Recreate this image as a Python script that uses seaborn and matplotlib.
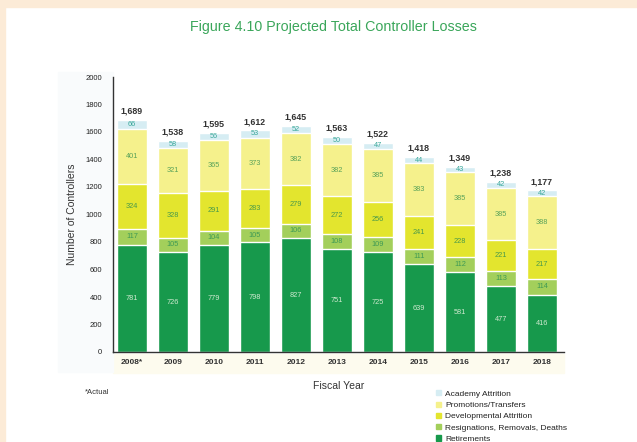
import matplotlib
matplotlib.use("Agg")
import matplotlib.pyplot as plt
from matplotlib.patches import Rectangle
import seaborn as sns
import numpy as np
import pandas as pd

years = ["2008*", "2009", "2010", "2011", "2012", "2013", "2014", "2015", "2016", "2017", "2018"]
retirements = [781, 726, 779, 798, 827, 751, 725, 639, 581, 477, 416]
resignations = [117, 105, 104, 105, 106, 108, 109, 111, 112, 113, 114]
developmental = [324, 328, 291, 283, 279, 272, 256, 241, 228, 221, 217]
promotions = [401, 321, 365, 373, 382, 382, 385, 383, 385, 385, 388]
academy = [66, 58, 56, 53, 52, 50, 47, 44, 43, 42, 42]
totals = [1689, 1538, 1595, 1612, 1645, 1563, 1522, 1418, 1349, 1238, 1177]

series_names = ["Retirements", "Resignations, Removals, Deaths", "Developmental Attrition",
                "Promotions/Transfers", "Academy Attrition"]
series_vals = [retirements, resignations, developmental, promotions, academy]
colors = ["#17994c", "#a3cf5b", "#e3e52e", "#f5f18c", "#d6edf3"]
label_colors = ["#cfe9cf", "#3f9a55", "#4a9a4a", "#5aa35a", "#3aa89a"]

sns.set_theme(style="white")
plt.rcParams["font.family"] = ["Liberation Sans", "DejaVu Sans"]

fig = plt.figure(figsize=(6.37, 4.42), dpi=100)
fig.patch.set_facecolor("white")
W, H = 637, 442
ax = fig.add_axes([113 / W, 1 - 352 / H, (564 - 113) / W, (352 - 77) / H])

# decorative background strips
fig.patches.append(Rectangle((0, 1 - 7 / H), 1, 7 / H, transform=fig.transFigure,
                             color="#fcebd7", zorder=-2))
fig.patches.append(Rectangle((0, 0), 5 / W, 1, transform=fig.transFigure,
                             color="#fcebd7", zorder=-2))
fig.patches.append(Rectangle((113 / W, 1 - 373 / H), (564 - 113) / W, 19 / H,
                             transform=fig.transFigure, color="#fdfbee", zorder=-1))
fig.patches.append(Rectangle((58 / W, 1 - 372 / H), 55 / W, 300 / H,
                             transform=fig.transFigure, color="#f9fbfc", zorder=-1))

cum = np.cumsum(np.array(series_vals), axis=0)
df = pd.DataFrame({"year": years})
for name, c in zip(series_names, cum):
    df[name] = c

# draw from the top layer down so lower layers overlay
for i in range(len(series_names) - 1, -1, -1):
    sns.barplot(data=df, x="year", y=series_names[i], color=colors[i], width=0.73,
                saturation=1, ax=ax, label=series_names[i], legend=False)

# segment labels
for i, vals in enumerate(series_vals):
    bottoms = cum[i] - np.array(vals)
    for j, v in enumerate(vals):
        ax.text(j, bottoms[j] + v / 2, str(v), ha="center", va="center",
                fontsize=5.3, color=label_colors[i])

# totals
for j, t in enumerate(totals):
    ax.text(j, cum[-1][j] + 30, f"{t:,}", ha="center", va="bottom",
            fontsize=6.4, fontweight="bold", color="#333333")

ax.set_ylim(0, 2000)
ax.set_xlim(-0.46, 10.54)
ax.set_yticks(range(0, 2001, 200))
ax.tick_params(axis="y", direction="in", length=4, width=0.8, labelsize=5.5,
               colors="#222222", pad=8)
ax.tick_params(axis="x", length=0, labelsize=6, pad=5, labelcolor="#333333")
for lbl in ax.get_xticklabels():
    lbl.set_fontweight("bold")
for s in ["top", "right"]:
    ax.spines[s].set_visible(False)
for s in ["left", "bottom"]:
    ax.spines[s].set_color("#333333")
    ax.spines[s].set_linewidth(1.0)
ax.set_xlabel("Fiscal Year", fontsize=7.5, color="#333333", labelpad=11)
ax.set_ylabel("Number of Controllers", fontsize=7.5, color="#333333", labelpad=6)

fig.text(333 / W, 1 - 27 / H, "Figure 4.10 Projected Total Controller Losses",
         ha="center", va="center", fontsize=10.3, color="#3aa65a")
fig.text(85 / W, 1 - 392 / H, "*Actual", ha="left", va="center", fontsize=5.5,
         color="#333333")

handles = [Rectangle((0, 0), 1, 1, color=colors[i]) for i in range(len(colors) - 1, -1, -1)]
labels = [series_names[i] for i in range(len(series_names) - 1, -1, -1)]
fig.legend(handles, labels, loc="upper left", bbox_to_anchor=(432 / W, 1 - 386 / H),
           frameon=False, fontsize=6, handlelength=0.6, handleheight=0.6,
           handletextpad=0.5, labelspacing=0.45, borderpad=0, labelcolor="#222222")

fig.savefig("out.png", dpi=100)
